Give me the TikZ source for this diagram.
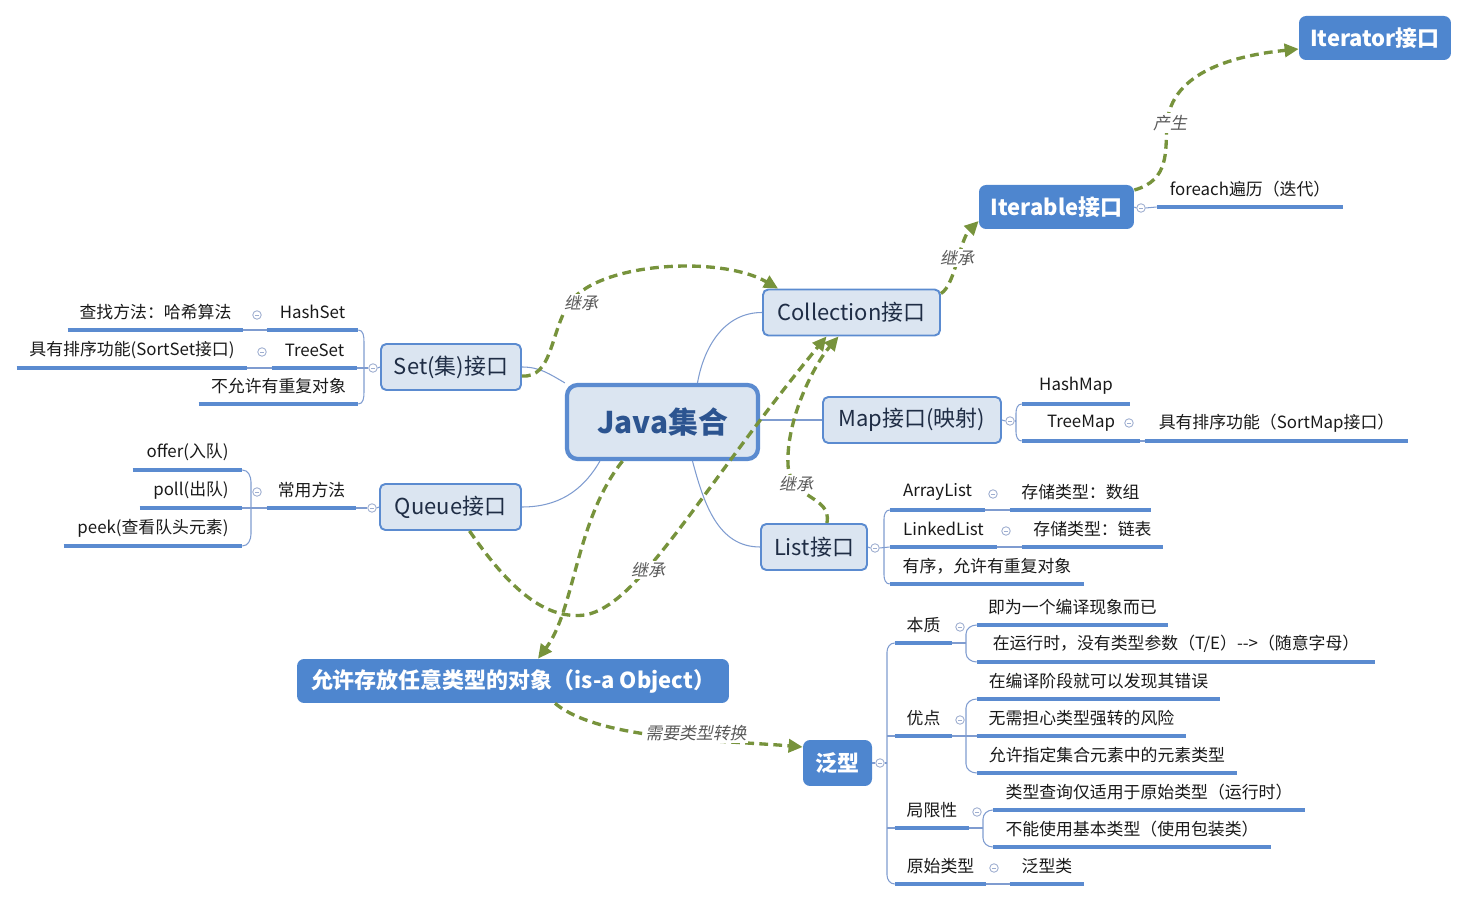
\documentclass[tikz,border=0pt]{standalone}
\usepackage{fontspec}
\setmainfont{Noto Sans CJK SC}
\newfontfamily\lblfont[FakeSlant=0.2]{Noto Sans CJK SC}
\usetikzlibrary{positioning,calc,arrows.meta}
\definecolor{cFill}{HTML}{DBE5F1}
\definecolor{cEdge}{HTML}{5B8BD0}
\definecolor{cBlue}{HTML}{4E86CF}
\definecolor{cInk}{HTML}{1F2D45}
\definecolor{cRoot}{HTML}{2C5490}
\definecolor{cLine}{HTML}{7F9CD0}
\definecolor{cUnder}{HTML}{5B8BD0}
\definecolor{cGreen}{HTML}{77933C}
\definecolor{cFold}{HTML}{9EAED0}
\definecolor{cGray}{HTML}{595959}
\tikzset{
  root/.style={rounded corners=6pt,draw=cEdge,line width=2.4pt,fill=cFill,text=cRoot,font=\bfseries\fontsize{17}{20}\selectfont,minimum width=3.82cm,minimum height=1.48cm},
  sub/.style={rounded corners=3pt,draw=cEdge,line width=1.1pt,fill=cFill,text=cInk,font=\fontsize{12.5}{15}\selectfont,minimum height=0.92cm},
  bluebox/.style={rounded corners=4pt,fill=cBlue,text=white,font=\bfseries\fontsize{12.5}{15}\selectfont,minimum height=0.88cm},
  leaf/.style={anchor=south,inner sep=0pt,minimum height=0.7cm,text=black!90,font=\fontsize{9.6}{11.5}\selectfont},
  uline/.style={line width=1.8pt,cUnder},
  branch/.style={line width=0.6pt,cLine},
  fold/.style={circle,draw=cFold,fill=white,line width=0.5pt,minimum size=0.17cm,inner sep=0pt,
    path picture={\draw[cFold,line width=0.5pt] ([xshift=1.3pt]path picture bounding box.west) -- ([xshift=-1.3pt]path picture bounding box.east);}},
  inh/.style={-{Triangle[length=8pt,width=7.5pt]},line width=1.9pt,cGreen,dash pattern=on 5pt off 3pt},
  lbl/.style={fill=white,inner sep=1pt,text=cGray,font=\lblfont\fontsize{9.6}{11.5}\selectfont},
}
\begin{document}
\begin{tikzpicture}[x=0.02cm,y=-0.02cm]
  \useasboundingbox (0,0) rectangle (1468,901);
  % topics
  \node[root] (java) at (662.5,422) {Java集合};
  \node[sub,minimum width=3.54cm] (coll) at (851.5,312.5) {Collection接口};
  \node[sub,minimum width=2.8cm] (set) at (451,367) {Set(集)接口};
  \node[sub,minimum width=2.82cm] (queue) at (450.5,507) {Queue接口};
  \node[sub,minimum width=3.56cm] (map) at (912,420) {Map接口(映射)};
  \node[sub,minimum width=2.12cm] (list) at (814,547) {List接口};
  \node[bluebox,minimum width=3.1cm] (iterable) at (1056.5,207) {Iterable接口};
  \node[bluebox,minimum width=3.04cm] (iterator) at (1375,38) {Iterator接口};
  \node[bluebox,minimum width=8.64cm] (object) at (513,681) {允许存放任意类型的对象（is-a Object）};
  \node[bluebox,minimum width=1.38cm,minimum height=0.92cm] (generic) at (837.5,763) {泛型};

  % set
  \node[leaf,minimum width=1.82cm] (hs) at (312.5,330) {HashSet};
  \node[leaf,minimum width=3.5cm] (hsc) at (155.5,330) {查找方法：哈希算法};
  \node[leaf,minimum width=1.7cm] (ts) at (314.5,368) {TreeSet};
  \node[leaf,minimum width=4.6cm] (tsc) at (132,368) {具有排序功能(SortSet接口)};
  \node[leaf,minimum width=3.18cm] (nodup) at (278.5,404) {不允许有重复对象};
  % queue
  \node[leaf,minimum width=1.78cm] (cm) at (311.5,508) {常用方法};
  \node[leaf,minimum width=2.18cm] (offer) at (187.5,470) {offer(入队)};
  \node[leaf,minimum width=2.04cm] (poll) at (191,508) {poll(出队)};
  \node[leaf,minimum width=3.56cm] (peek) at (153,546) {peek(查看队头元素)};
  % map
  \node[leaf,minimum width=2.16cm] (hm) at (1076,404) {HashMap};
  \node[leaf,minimum width=2.36cm] (tm) at (1081,441) {TreeMap};
  \node[leaf,minimum width=5.26cm] (tmc) at (1276.5,441) {具有排序功能（SortMap接口）};
  % list
  \node[leaf,minimum width=1.9cm] (al) at (937.5,510) {ArrayList};
  \node[leaf,minimum width=2.82cm] (alc) at (1080.5,510) {存储类型：数组};
  \node[leaf,minimum width=2.14cm] (ll) at (943.5,547) {LinkedList};
  \node[leaf,minimum width=2.82cm] (llc) at (1092.5,547) {存储类型：链表};
  \node[leaf,minimum width=3.88cm] (ord) at (987,584) {有序，允许有重复对象};
  % iterable
  \node[leaf,minimum width=3.72cm] (fe) at (1250,207) {foreach遍历（迭代）};
  % generic
  \node[leaf,minimum width=1.14cm] (bz) at (923.5,643) {本质};
  \node[leaf,minimum width=3.82cm] (bz1) at (1072.5,625) {即为一个编译现象而已};
  \node[leaf,minimum width=7.96cm] (bz2) at (1176,662) {在运行时，没有类型参数（T/E）-{}-{}>（随意字母）};
  \node[leaf,minimum width=1.14cm] (yd) at (923.5,736) {优点};
  \node[leaf,minimum width=4.86cm] (yd1) at (1098.5,699) {在编译阶段就可以发现其错误};
  \node[leaf,minimum width=4.18cm] (yd2) at (1081.5,736) {无需担心类型强转的风险};
  \node[leaf,minimum width=5.2cm] (yd3) at (1107,773) {允许指定集合元素中的元素类型};
  \node[leaf,minimum width=1.48cm] (jx) at (932,828) {局限性};
  \node[leaf,minimum width=6.24cm] (jx1) at (1149,810) {类型查询仅适用于原始类型（运行时）};
  \node[leaf,minimum width=5.56cm] (jx2) at (1132,847) {不能使用基本类型（使用包装类）};
  \node[leaf,minimum width=1.82cm] (ys) at (940.5,884) {原始类型};
  \node[leaf,minimum width=1.48cm] (ys1) at (1047,884) {泛型类};

  \foreach \n in {hs,hsc,ts,tsc,nodup,cm,offer,poll,peek,hm,tm,tmc,al,alc,ll,llc,ord,fe,bz,bz1,bz2,yd,yd1,yd2,yd3,jx,jx1,jx2,ys,ys1}
    \draw[uline] (\n.south west) -- (\n.south east);

  % fold marks
  \node[fold] (fset) at (373,368) {};
  \node[fold] (fhs) at (257,315) {};
  \node[fold] (fts) at (262,352) {};
  \node[fold] (fqueue) at (372,508) {};
  \node[fold] (fcm) at (257,492) {};
  \node[fold] (fmap) at (1010,421) {};
  \node[fold] (ftm) at (1129,423) {};
  \node[fold] (flist) at (875,548) {};
  \node[fold] (fal) at (993,494) {};
  \node[fold] (fll) at (1006,531) {};
  \node[fold] (fiter) at (1141,208) {};
  \node[fold] (fgen) at (880,763) {};
  \node[fold] (fbz) at (960,627) {};
  \node[fold] (fyd) at (960,720) {};
  \node[fold] (fjx) at (977,812) {};
  \node[fold] (fys) at (994,868) {};

  % branches
  \draw[branch] ($(java.north)+(35,0)$) to[out=80,in=180] (coll.west);
  \draw[branch] (set.east) to[out=0,in=150] (java.north west);
  \draw[branch] (queue.east) to[out=0,in=-120] ($(java.south west)+(35,0)$);
  \draw[branch] (map.west -| java.east) -- (map.west);
  \draw[branch] ($(java.south)+(30,0)$) to[out=-75,in=180] (list.west);

  \draw[branch] (set.west) -- (fset.east);
  \draw[branch] (fset.west) -- (ts.south east);
  \draw[branch] (hs.south east) to[out=0,in=90] (364,342) -- (364,392) to[out=-90,in=0] (nodup.south east);
  \draw[branch] (hs.south west) -- (hsc.south east);
  \draw[branch] (ts.south west) -- (tsc.south east);

  \draw[branch] (queue.west) -- (fqueue.east);
  \draw[branch] (fqueue.west) -- (cm.south east);
  \draw[branch] (cm.south west) -- (poll.south east);
  \draw[branch] (offer.south east) to[out=0,in=90] (251,482) -- (251,534) to[out=-90,in=0] (peek.south east);

  \draw[branch] (map.east) -- (fmap.west);
  \draw[branch] (fmap.east) -- (1016,421);
  \draw[branch] (hm.south west) to[out=180,in=90] (1016,413) -- (1016,432) to[out=-90,in=180] (tm.south west);
  \draw[branch] (tm.south east) -- (tmc.south west);

  \draw[branch] (list.east) -- (flist.west);
  \draw[branch] (flist.east) -- (ll.south west);
  \draw[branch] (al.south west) to[out=180,in=90] (884,519) -- (884,575) to[out=-90,in=180] (ord.south west);
  \draw[branch] (al.south east) -- (alc.south west);
  \draw[branch] (ll.south east) -- (llc.south west);

  \draw[branch] (iterable.east) -- (fiter.west);
  \draw[branch] (fiter.east) -- (fe.south west);

  \draw[branch] (generic.east) -- (fgen.west);
  \draw[branch] (fgen.east) -- (887,763);
  \draw[branch] (bz.south west) to[out=180,in=90] (887,652) -- (887,875) to[out=-90,in=180] (ys.south west);
  \draw[branch] (yd.south west) -- (887,736);
  \draw[branch] (jx.south west) -- (887,828);
  \draw[branch] (bz.south east) -- (966,643);
  \draw[branch] (bz1.south west) to[out=180,in=90] (966,634) -- (966,653) to[out=-90,in=180] (bz2.south west);
  \draw[branch] (yd.south east) -- (yd2.south west);
  \draw[branch] (yd1.south west) to[out=180,in=90] (966,708) -- (966,764) to[out=-90,in=180] (yd3.south west);
  \draw[branch] (jx.south east) -- (983,828);
  \draw[branch] (jx1.south west) to[out=180,in=90] (983,819) -- (983,838) to[out=-90,in=180] (jx2.south west);
  \draw[branch] (ys.south east) -- (ys1.south west);

  % relations
  \draw[inh] ($(set.east)+(0,9)$) .. controls +(30,2) and (550,335) .. (568,305) .. controls (595,262) and (720,255) .. ($(coll.north west)+(16,0)$);
  \draw[inh] ($(queue.south)+(19,0)$) .. controls +(40,58) and (545,620) .. (585,615) .. controls (640,605) and (700,490) .. ($(coll.south)+(-25,0)$);
  \draw[inh] ($(java.south)+(-40,0)$) .. controls +(-47,59) and +(37,-49) .. ($(object.north)+(25,0)$);
  \draw[inh] ($(list.north)+(13,0)$) .. controls +(5,-28) and +(2,35) .. (788,465) .. controls +(-2,-45) and +(-25,29) .. ($(coll.south)+(-13,0)$);
  \draw[inh] ($(coll.east)+(0,-19)$) .. controls +(14,-8) and +(-19,19) .. ($(iterable.west)+(0,14)$);
  \draw[inh] ($(iterable.east)+(0,-17)$) .. controls +(36,-10) and +(-2,25) .. (1167,125) .. controls +(3,-55) and +(-59,6) .. ($(iterator.west)+(0,11)$);
  \draw[inh] ($(object.south)+(42,0)$) .. controls +(45,37) and +(-83,-7) .. ($(generic.west)+(0,-16)$);

  \node[lbl] (l1) at (581,303) {继承};
  \node[lbl] (l2) at (957,258) {继承};
  \node[lbl] (l3) at (796,484) {继承};
  \node[lbl] (l4) at (648,570) {继承};
  \node[lbl] (l5) at (1170,123) {产生};
  \node[lbl] (l6) at (696,733) {需要类型转换};
\end{tikzpicture}
\end{document}
